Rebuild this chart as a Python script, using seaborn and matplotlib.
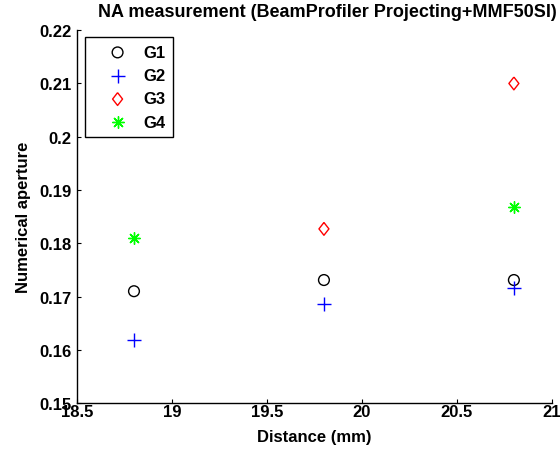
import matplotlib
matplotlib.use("Agg")
import matplotlib.pyplot as plt
import seaborn as sns
import pandas as pd

# Measured numerical aperture per group at each projection distance
distance = [18.8, 19.8, 20.8]
g1 = [0.1710, 0.1731, 0.1731]
g2 = [0.1618, 0.1686, 0.1716]
g3 = [None, 0.1827, 0.2100]
g4 = [0.1810, None, 0.1868]
groups = ["G1", "G2", "G3", "G4"]
x_ticks = [18.5, 19, 19.5, 20, 20.5, 21]
x_tick_labels = ["18.5", "19", "19.5", "20", "20.5", "21"]
y_ticks = [0.15, 0.16, 0.17, 0.18, 0.19, 0.2, 0.21, 0.22]
y_tick_labels = ["0.15", "0.16", "0.17", "0.18", "0.19", "0.2", "0.21", "0.22"]

rows = []
for name, vals in zip(groups, [g1, g2, g3, g4]):
    for d, v in zip(distance, vals):
        if v is not None:
            rows.append({"Distance": d, "NA": v, "Group": name})
df = pd.DataFrame(rows)

sns.set_style("white")
plt.rcParams["font.family"] = ["Liberation Sans", "DejaVu Sans"]
plt.rcParams["font.weight"] = "bold"
plt.rcParams["text.color"] = "black"
plt.rcParams["axes.labelcolor"] = "black"

FS = 12

fig = plt.figure(figsize=(5.6, 4.52), dpi=100)
ax = fig.add_axes([0.1375, 0.106, 0.848, 0.825])

# tall diamond, like the classic MATLAB 'd' marker
tall_diamond = [(0, 1), (0.78, 0), (0, -1), (-0.78, 0), (0, 1)]

styles = {
    "G1": dict(marker="o", color="black", filled=False, s=60),
    "G2": dict(marker="+", color="blue", filled=True, s=90),
    "G3": dict(marker=tall_diamond, color="red", filled=False, s=85),
    "G4": dict(marker=(8, 2, 0), color="#00ff00", filled=True, s=70),
}

for name in groups:
    st = styles[name]
    sub = df[df["Group"] == name]
    if st["filled"]:
        sns.scatterplot(data=sub, x="Distance", y="NA", ax=ax, marker=st["marker"],
                        color=st["color"], s=st["s"], linewidth=1.0, label=name)
    else:
        sns.scatterplot(data=sub, x="Distance", y="NA", ax=ax, marker=st["marker"],
                        facecolor="none", edgecolor=st["color"], s=st["s"],
                        linewidth=1.0, label=name)

ax.set_xlim(18.5, 21)
ax.set_ylim(0.15, 0.22)
ax.set_xticks(x_ticks)
ax.set_xticklabels(x_tick_labels)
ax.set_yticks(y_ticks)
ax.set_yticklabels(y_tick_labels)

for side in ["top", "right"]:
    ax.spines[side].set_visible(False)
for side in ["left", "bottom"]:
    ax.spines[side].set_color("black")
    ax.spines[side].set_linewidth(1.0)

ax.tick_params(axis="both", direction="in", length=3, width=0.8, colors="black",
               labelsize=FS, left=True, bottom=True)
ax.tick_params(axis="x", pad=1)
ax.tick_params(axis="y", pad=4)
for lbl in ax.get_xticklabels() + ax.get_yticklabels():
    lbl.set_fontweight("bold")

ax.set_xlabel("Distance (mm)", fontsize=FS, fontweight="bold", labelpad=7)
ax.set_ylabel("Numerical aperture", fontsize=FS, fontweight="bold", labelpad=6)
ax.set_title("NA measurement (BeamProfiler Projecting+MMF50SI)", fontsize=13,
             fontweight="bold", x=0.527, pad=10)

leg = ax.legend(loc="upper left", bbox_to_anchor=(0.017, 0.981), frameon=True,
                fancybox=False, edgecolor="black", framealpha=1,
                prop={"weight": "bold", "size": FS}, handletextpad=0.05,
                borderpad=0.45, labelspacing=0.5, handlelength=3.0,
                borderaxespad=0)
leg.get_frame().set_linewidth(1.0)

fig.savefig("out.png", dpi=100)
